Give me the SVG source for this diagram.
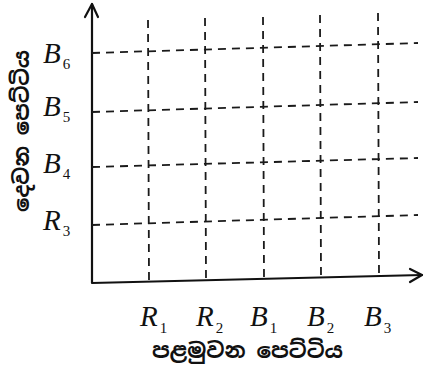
<svg xmlns="http://www.w3.org/2000/svg" width="429" height="383" viewBox="0 0 429 383">
<style>
.ax{stroke:#111;stroke-width:2.2;fill:none;stroke-linecap:round;stroke-linejoin:round}
.gd{stroke:#1a1a1a;stroke-width:1.8;stroke-dasharray:8 6;fill:none}
.lb{font-family:"Liberation Serif","Times New Roman",serif;font-style:italic;font-size:29px;fill:#111}
.sb{font-family:"Liberation Serif","Times New Roman",serif;font-style:normal;font-size:15px;fill:#111}
.si{font-family:"Noto Sans Sinhala","Noto Serif Sinhala","Noto Sans",sans-serif;font-size:21px;font-weight:bold;fill:#111}
</style>
<rect width="429" height="383" fill="#fff"/>
<g id="connectors">
<path class="ax" d="M92,4 L92,283 L422,275"/>
<path class="ax" d="M85,17 L92,4 L98,17"/>
<path class="ax" d="M410,269 L422,275 L410,282"/>
<g id="grid">
<path class="gd" d="M92,53 L418,43"/>
<path class="gd" d="M92,112 L418,102"/>
<path class="gd" d="M92,167 L418,158"/>
<path class="gd" d="M92,225 L418,215"/>
<path class="gd" d="M148,20 L149,282"/>
<path class="gd" d="M205,18 L206,281"/>
<path class="gd" d="M263,17 L264,279"/>
<path class="gd" d="M320,15 L321,278"/>
<path class="gd" d="M378,13 L379,276"/>
</g>
</g>
<g id="ylabels">
<text class="lb" x="43" y="63">B<tspan class="sb" dx="2" dy="6">6</tspan></text>
<text class="lb" x="43" y="116">B<tspan class="sb" dx="2" dy="6">5</tspan></text>
<text class="lb" x="43" y="173">B<tspan class="sb" dx="2" dy="6">4</tspan></text>
<text class="lb" x="43" y="230">R<tspan class="sb" dx="2" dy="6">3</tspan></text>
</g>
<g id="xlabels">
<text class="lb" x="140" y="326">R<tspan class="sb" dx="2" dy="7">1</tspan></text>
<text class="lb" x="196" y="326">R<tspan class="sb" dx="2" dy="7">2</tspan></text>
<text class="lb" x="250" y="326">B<tspan class="sb" dx="2" dy="7">1</tspan></text>
<text class="lb" x="307" y="326">B<tspan class="sb" dx="2" dy="7">2</tspan></text>
<text class="lb" x="364" y="326">B<tspan class="sb" dx="2" dy="7">3</tspan></text>
</g>
<g id="xtitle">
<text class="si" x="152" y="358" textLength="191" lengthAdjust="spacingAndGlyphs">පළමුවන පෙට්ටිය</text>
</g>
<g id="ytitle">
<text class="si" transform="translate(29,212) rotate(-90)" x="0" y="0" textLength="162" lengthAdjust="spacingAndGlyphs">දෙවන පෙට්ටිය</text>
</g>
</svg>
